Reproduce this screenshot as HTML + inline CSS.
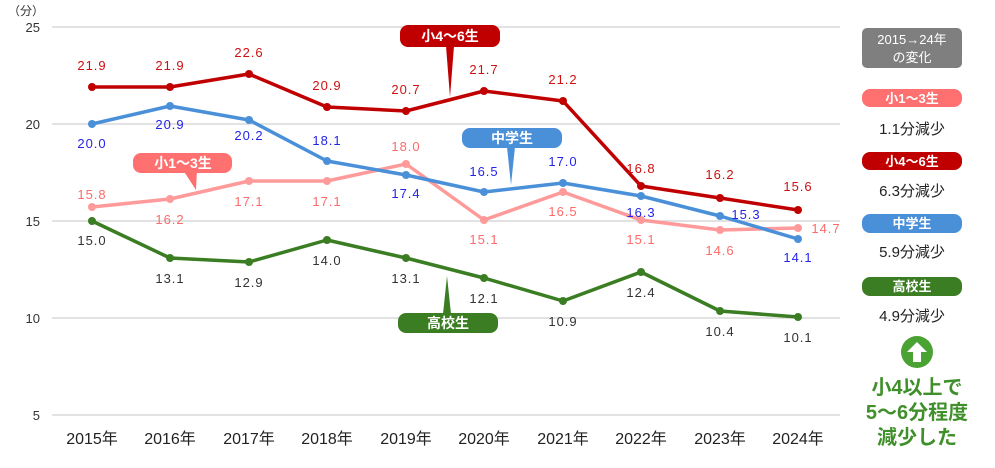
<!DOCTYPE html>
<html><head><meta charset="utf-8"><style>
body{margin:0;background:#fff;}
svg{display:block;font-family:"Liberation Sans","Noto Sans CJK JP",sans-serif;}
</style></head><body>
<svg width="995" height="468" viewBox="0 0 995 468">
<g stroke="#d9d9d9" stroke-width="1.5">
<line x1="52" y1="27" x2="840" y2="27"/><line x1="52" y1="124" x2="840" y2="124"/>
<line x1="52" y1="221" x2="840" y2="221"/><line x1="52" y1="318" x2="840" y2="318"/>
<line x1="52" y1="415" x2="840" y2="415"/>
</g>
<g font-size="13" fill="#333" text-anchor="end">
<text x="40" y="32">25</text><text x="40" y="129">20</text><text x="40" y="226">15</text><text x="40" y="323">10</text><text x="40" y="420">5</text>
<text x="44" y="15" font-size="12" text-anchor="end">（分）</text>
</g>
<g font-size="16" fill="#222" text-anchor="middle">
<text x="92" y="444">2015年</text><text x="170" y="444">2016年</text><text x="249" y="444">2017年</text><text x="327" y="444">2018年</text><text x="406" y="444">2019年</text><text x="484" y="444">2020年</text><text x="563" y="444">2021年</text><text x="641" y="444">2022年</text><text x="720" y="444">2023年</text><text x="798" y="444">2024年</text>
</g>
<!-- callout tails -->
<polygon points="446,46 454,46 450,97" fill="#c00000"/>
<polygon points="507,147 515,147 511,185" fill="#4a90d9"/>
<polygon points="183,170 197,170 196,190" fill="#ff7070"/>
<polygon points="443,314 451,314 447,276" fill="#3a7d22"/>
<!-- series -->
<g fill="none" stroke-width="3.5" stroke-linejoin="round">
<polyline stroke="#ff9a9a" points="92,207 170,199 249,181 327,181 406,164 484,220 563,192 641,220 720,230 798,228"/>
<polyline stroke="#3a7d22" points="92,221 170,258 249,262 327,240 406,258 484,278 563,301 641,272 720,311 798,317"/>
<polyline stroke="#4a90d9" points="92,124 170,106 249,120 327,161 406,175 484,192 563,183 641,196 720,216 798,239"/>
<polyline stroke="#c00000" points="92,87 170,87 249,74 327,107 406,111 484,91 563,101 641,186 720,198 798,210"/>
</g>
<g fill="#ff9a9a"><circle cx="92" cy="207" r="4"/><circle cx="170" cy="199" r="4"/><circle cx="249" cy="181" r="4"/><circle cx="327" cy="181" r="4"/><circle cx="406" cy="164" r="4"/><circle cx="484" cy="220" r="4"/><circle cx="563" cy="192" r="4"/><circle cx="641" cy="220" r="4"/><circle cx="720" cy="230" r="4"/><circle cx="798" cy="228" r="4"/></g>
<g fill="#3a7d22"><circle cx="92" cy="221" r="4"/><circle cx="170" cy="258" r="4"/><circle cx="249" cy="262" r="4"/><circle cx="327" cy="240" r="4"/><circle cx="406" cy="258" r="4"/><circle cx="484" cy="278" r="4"/><circle cx="563" cy="301" r="4"/><circle cx="641" cy="272" r="4"/><circle cx="720" cy="311" r="4"/><circle cx="798" cy="317" r="4"/></g>
<g fill="#4a90d9"><circle cx="92" cy="124" r="4"/><circle cx="170" cy="106" r="4"/><circle cx="249" cy="120" r="4"/><circle cx="327" cy="161" r="4"/><circle cx="406" cy="175" r="4"/><circle cx="484" cy="192" r="4"/><circle cx="563" cy="183" r="4"/><circle cx="641" cy="196" r="4"/><circle cx="720" cy="216" r="4"/><circle cx="798" cy="239" r="4"/></g>
<g fill="#c00000"><circle cx="92" cy="87" r="4"/><circle cx="170" cy="87" r="4"/><circle cx="249" cy="74" r="4"/><circle cx="327" cy="107" r="4"/><circle cx="406" cy="111" r="4"/><circle cx="484" cy="91" r="4"/><circle cx="563" cy="101" r="4"/><circle cx="641" cy="186" r="4"/><circle cx="720" cy="198" r="4"/><circle cx="798" cy="210" r="4"/></g>
<!-- labels -->
<g font-size="13" text-anchor="middle" letter-spacing="1">
<g fill="#d01010"><text x="92" y="70">21.9</text><text x="170" y="70">21.9</text><text x="249" y="57">22.6</text><text x="327" y="90">20.9</text><text x="406" y="94">20.7</text><text x="484" y="74">21.7</text><text x="563" y="84">21.2</text><text x="641" y="173">16.8</text><text x="720" y="179">16.2</text><text x="798" y="191">15.6</text></g>
<g fill="#2424e8"><text x="92" y="148">20.0</text><text x="170" y="129">20.9</text><text x="249" y="140">20.2</text><text x="327" y="145">18.1</text><text x="406" y="198">17.4</text><text x="484" y="176">16.5</text><text x="563" y="166">17.0</text><text x="641" y="217">16.3</text><text x="746" y="219">15.3</text><text x="798" y="262">14.1</text></g>
<g fill="#ff6a6a"><text x="92" y="199">15.8</text><text x="170" y="224">16.2</text><text x="249" y="206">17.1</text><text x="327" y="206">17.1</text><text x="406" y="151">18.0</text><text x="484" y="244">15.1</text><text x="563" y="216">16.5</text><text x="641" y="244">15.1</text><text x="720" y="255">14.6</text><text x="826" y="233">14.7</text></g>
<g fill="#333"><text x="92" y="245">15.0</text><text x="170" y="283">13.1</text><text x="249" y="287">12.9</text><text x="327" y="265">14.0</text><text x="406" y="283">13.1</text><text x="484" y="303">12.1</text><text x="563" y="326">10.9</text><text x="641" y="297">12.4</text><text x="720" y="336">10.4</text><text x="798" y="342">10.1</text></g>
</g>
<!-- callout boxes -->
<g font-size="14" font-weight="bold" fill="#fff" text-anchor="middle">
<rect x="400" y="25" width="100" height="22" rx="8" fill="#c00000"/><text x="450" y="41">小4〜6生</text>
<rect x="462" y="128" width="100" height="20" rx="8" fill="#4a90d9"/><text x="512" y="143">中学生</text>
<rect x="133" y="153" width="99" height="20" rx="8" fill="#ff7070"/><text x="183" y="168">小1〜3生</text>
<rect x="398" y="313" width="100" height="20" rx="8" fill="#3a7d22"/><text x="448" y="328">高校生</text>
</g>
<!-- right panel -->
<rect x="862" y="28" width="100" height="40" rx="5" fill="#7f7f7f"/>
<g fill="#fff" font-size="13" text-anchor="middle"><text x="912" y="44">2015→24年</text><text x="912" y="62">の変化</text></g>
<g font-size="13" font-weight="bold" fill="#fff" text-anchor="middle">
<rect x="862" y="89" width="100" height="18" rx="8" fill="#ff7070"/><text x="912" y="103">小1〜3生</text>
<rect x="862" y="152" width="100" height="18" rx="8" fill="#c00000"/><text x="912" y="166">小4〜6生</text>
<rect x="862" y="214" width="100" height="19" rx="8" fill="#4a90d9"/><text x="912" y="228">中学生</text>
<rect x="862" y="277" width="100" height="19" rx="8" fill="#3a7d22"/><text x="912" y="291">高校生</text>
</g>
<g font-size="15" fill="#222" text-anchor="middle">
<text x="912" y="134">1.1分減少</text><text x="912" y="196">6.3分減少</text><text x="912" y="257">5.9分減少</text><text x="912" y="321">4.9分減少</text>
</g>
<circle cx="917" cy="352" r="16" fill="#4aa232"/>
<polygon points="917,342 927,352 921,352 921,362 913,362 913,352 907,352" fill="#fff"/>
<g font-size="20" fill="#3f8f2a" text-anchor="middle" font-weight="bold">
<text x="917" y="394">小4以上で</text><text x="917" y="419">5〜6分程度</text><text x="917" y="444">減少した</text>
</g>
</svg>
</body></html>
